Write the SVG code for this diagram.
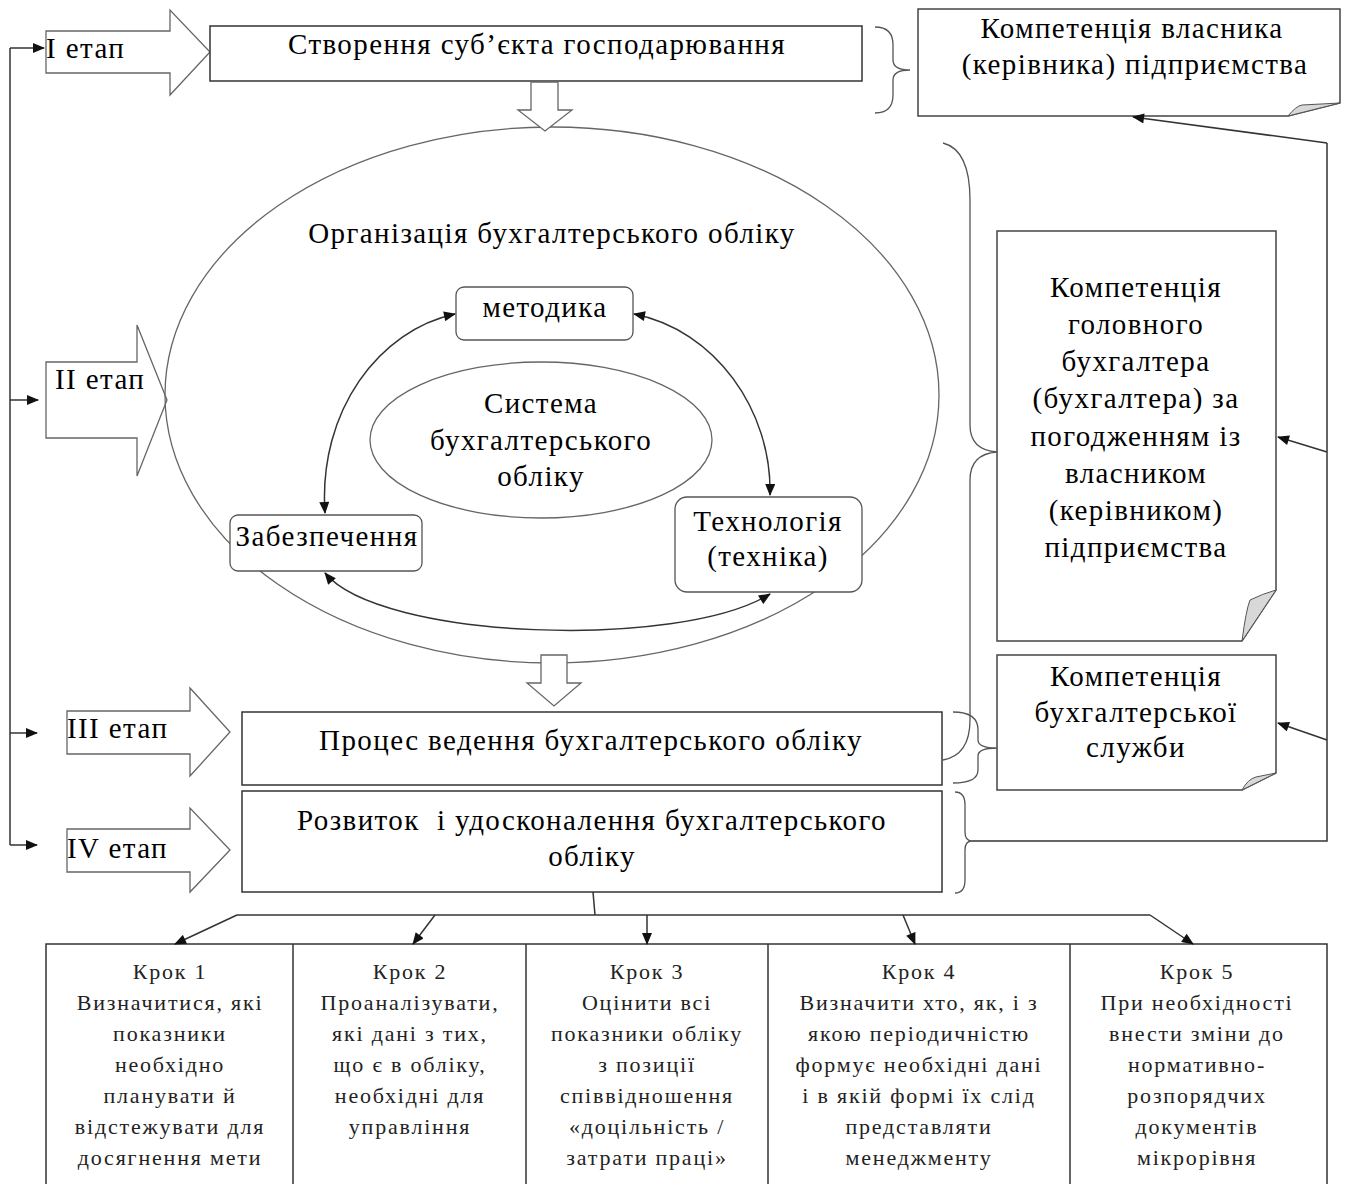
<svg xmlns="http://www.w3.org/2000/svg" width="1351" height="1184" viewBox="0 0 1351 1184">
<defs>
<marker id="ah" viewBox="0 0 12 10" refX="11" refY="5" markerWidth="13" markerHeight="10" markerUnits="userSpaceOnUse" orient="auto-start-reverse">
<path d="M0,0 L12,5 L0,10 Z" fill="#111"/>
</marker>
<style>
.t{font-family:"Liberation Serif","Times New Roman",serif;font-size:29px;letter-spacing:1.4px;fill:#000;text-anchor:middle}
.tl{font-family:"Liberation Serif","Times New Roman",serif;font-size:29px;letter-spacing:1.4px;fill:#000}
.s{font-family:"Liberation Serif","Times New Roman",serif;font-size:22px;fill:#222;text-anchor:middle;letter-spacing:1.8px}
.box{fill:#fff;stroke:#333;stroke-width:1.5}
.barrow{fill:#fff;stroke:#666;stroke-width:1.3}
.rbox{fill:#fff;stroke:#555;stroke-width:1.3}
.ell{fill:none;stroke:#666;stroke-width:1.3}
.doc{fill:#fff;stroke:#444;stroke-width:1.5}
.fold{fill:#d8d8d8;stroke:#555;stroke-width:1}
.ln{fill:none;stroke:#333;stroke-width:1.5}
.br{fill:none;stroke:#555;stroke-width:1.3}
</style>
</defs>

<!-- Stage arrows -->
<g id="stage1">
<path class="barrow" d="M46,31 H170 V10 L210,52 L170,95 V73 H46 Z"/>
<text class="tl" x="46" y="58">I етап</text>
</g>
<g id="stage2">
<path class="barrow" d="M46,362 H137 V325 L167,400 L137,476 V438 H46 Z"/>
<text class="tl" x="55" y="389">II етап</text>
</g>
<g id="stage3">
<path class="barrow" d="M67,711 H190 V688 L230,732 L190,776 V754 H67 Z"/>
<text class="tl" x="67" y="738">III етап</text>
</g>
<g id="stage4">
<path class="barrow" d="M67,829 H190 V808 L230,850 L190,892 V872 H67 Z"/>
<text class="tl" x="67" y="858">IV етап</text>
</g>

<!-- Top box -->
<g id="create">
<rect class="box" x="210" y="26" width="652" height="55"/>
<text class="t" x="537" y="54">Створення суб’єкта господарювання</text>
</g>

<!-- owner doc -->
<g id="owner">
<path class="doc" d="M918,9 H1340 V103 L1288,116 H918 Z"/>
<path class="fold" d="M1288,116 Q1296,106 1302,105 L1340,103 Z"/>
<text class="t" x="1132" y="38">Компетенція власника</text>
<text class="t" x="1135" y="74">(керівника) підприємства</text>
</g>

<!-- Organization ellipse -->
<g id="organization">
<ellipse class="ell" cx="552" cy="395" rx="387" ry="268"/>
<text class="t" x="552" y="243">Організація бухгалтерського обліку</text>
</g>

<g id="system">
<ellipse class="ell" cx="541" cy="440" rx="171" ry="78"/>
<text class="t" x="541" y="413">Система</text>
<text class="t" x="541" y="450">бухгалтерського</text>
<text class="t" x="541" y="486">обліку</text>
</g>

<g id="methodika">
<rect class="rbox" x="456" y="287" width="177" height="53" rx="8"/>
<text class="t" x="545" y="317">методика</text>
</g>

<g id="zabezpechennia">
<rect class="rbox" x="230" y="515" width="192" height="56" rx="8"/>
<text class="t" x="327" y="546">Забезпечення</text>
</g>

<g id="technology">
<rect class="rbox" x="675" y="497" width="187" height="95" rx="12"/>
<text class="t" x="768" y="531">Технологія</text>
<text class="t" x="768" y="566">(техніка)</text>
</g>

<!-- down block arrows -->
<g id="down1">
<path class="barrow" d="M531,82 H558 V110 H572 L545,131 L518,110 H531 Z"/>
</g>
<g id="down2">
<path class="barrow" d="M541,655 H567 V683 H581 L554,706 L527,683 H541 Z"/>
</g>

<!-- Process boxes -->
<g id="process">
<rect class="box" x="242" y="712" width="700" height="73"/>
<text class="t" x="591" y="750">Процес ведення бухгалтерського обліку</text>
</g>
<g id="development">
<rect class="box" x="242" y="791" width="700" height="101"/>
<text class="t" x="592" y="830" xml:space="preserve">Розвиток  і удосконалення бухгалтерського</text>
<text class="t" x="592" y="866">обліку</text>
</g>

<!-- chief accountant doc -->
<g id="chief">
<path class="doc" d="M997,231 H1276 V590 L1242,641 H997 Z"/>
<path class="fold" d="M1242,641 Q1246,610 1250,600 Q1262,594 1276,590 Z"/>
<text class="t" x="1136" y="297">Компетенція</text>
<text class="t" x="1136" y="334">головного</text>
<text class="t" x="1136" y="371">бухгалтера</text>
<text class="t" x="1136" y="408">(бухгалтера) за</text>
<text class="t" x="1136" y="446">погодженням із</text>
<text class="t" x="1136" y="483">власником</text>
<text class="t" x="1136" y="520">(керівником)</text>
<text class="t" x="1136" y="557">підприємства</text>
</g>

<g id="service">
<path class="doc" d="M997,655 H1276 V773 L1242,790 H997 Z"/>
<path class="fold" d="M1242,790 Q1248,779 1256,777 L1276,773 Z"/>
<text class="t" x="1136" y="686">Компетенція</text>
<text class="t" x="1136" y="722">бухгалтерської</text>
<text class="t" x="1136" y="757">служби</text>
</g>

<!-- Steps -->
<g id="steps">
<rect class="box" x="46" y="944" width="1281" height="244"/>
<line class="ln" x1="293" y1="944" x2="293" y2="1188"/>
<line class="ln" x1="526" y1="944" x2="526" y2="1188"/>
<line class="ln" x1="768" y1="944" x2="768" y2="1188"/>
<line class="ln" x1="1070" y1="944" x2="1070" y2="1188"/>
</g>
<g id="step1">
<text class="s" x="170" y="979">Крок 1</text>
<text class="s" x="170" y="1010">Визначитися, які</text>
<text class="s" x="170" y="1041">показники</text>
<text class="s" x="170" y="1072">необхідно</text>
<text class="s" x="170" y="1103">планувати й</text>
<text class="s" x="170" y="1134">відстежувати для</text>
<text class="s" x="170" y="1165">досягнення мети</text>
</g>
<g id="step2">
<text class="s" x="410" y="979">Крок 2</text>
<text class="s" x="410" y="1010">Проаналізувати,</text>
<text class="s" x="410" y="1041">які дані з тих,</text>
<text class="s" x="410" y="1072">що є в обліку,</text>
<text class="s" x="410" y="1103">необхідні для</text>
<text class="s" x="410" y="1134">управління</text>
</g>
<g id="step3">
<text class="s" x="647" y="979">Крок 3</text>
<text class="s" x="647" y="1010">Оцінити всі</text>
<text class="s" x="647" y="1041">показники обліку</text>
<text class="s" x="647" y="1072">з позиції</text>
<text class="s" x="647" y="1103">співвідношення</text>
<text class="s" x="647" y="1134">«доцільність /</text>
<text class="s" x="647" y="1165">затрати праці»</text>
</g>
<g id="step4">
<text class="s" x="919" y="979">Крок 4</text>
<text class="s" x="919" y="1010">Визначити хто, як, і з</text>
<text class="s" x="919" y="1041">якою періодичністю</text>
<text class="s" x="919" y="1072">формує необхідні дані</text>
<text class="s" x="919" y="1103">і в якій формі їх слід</text>
<text class="s" x="919" y="1134">представляти</text>
<text class="s" x="919" y="1165">менеджменту</text>
</g>
<g id="step5">
<text class="s" x="1197" y="979">Крок 5</text>
<text class="s" x="1197" y="1010">При необхідності</text>
<text class="s" x="1197" y="1041">внести зміни до</text>
<text class="s" x="1197" y="1072">нормативно-</text>
<text class="s" x="1197" y="1103">розпорядчих</text>
<text class="s" x="1197" y="1134">документів</text>
<text class="s" x="1197" y="1165">мікрорівня</text>
</g>

<!-- Connectors -->
<g id="connectors">
<!-- left stage loop -->
<path class="ln" d="M10,48 V845"/>
<path class="ln" d="M10,48 H44" marker-end="url(#ah)"/>
<path class="ln" d="M10,400 H38" marker-end="url(#ah)"/>
<path class="ln" d="M10,733 H37" marker-end="url(#ah)"/>
<path class="ln" d="M10,845 H37" marker-end="url(#ah)"/>
<!-- braces -->
<path class="br" d="M875,27 Q893,27 893,45 V60 Q893,70 910,70 Q893,70 893,80 V95 Q893,113 875,113"/>
<path class="br" d="M943,143 Q970,150 970,200 V425 Q970,450 997,452 Q970,454 970,480 V720 Q970,755 943,760"/>
<path class="br" d="M953,712 Q978,712 978,730 V740 Q978,748 997,748 Q978,748 978,756 V770 Q978,783 953,783"/>
<path class="br" d="M955,792 Q965,792 965,805 V832 Q965,841 972,841 Q965,841 965,850 V880 Q965,893 955,893"/>
<!-- right loop -->
<path class="ln" d="M972,841 H1327 V143"/>
<path class="ln" d="M1327,143 L1133,117" marker-end="url(#ah)"/>
<path class="ln" d="M1327,452 L1278,437" marker-end="url(#ah)"/>
<path class="ln" d="M1327,740 L1278,723" marker-end="url(#ah)"/>
<!-- inner double arrows -->
<path class="ln" d="M455,314 C380,330 318,410 325,513" marker-start="url(#ah)" marker-end="url(#ah)"/>
<path class="ln" d="M634,314 C715,330 772,410 770,495" marker-start="url(#ah)" marker-end="url(#ah)"/>
<path class="ln" d="M325,573 C380,640 680,650 770,594" marker-start="url(#ah)" marker-end="url(#ah)"/>
<!-- steps fan -->
<path class="ln" d="M593,892 L595,915"/>
<path class="ln" d="M237,915 H1150"/>
<path class="ln" d="M237,915 L175,944" marker-end="url(#ah)"/>
<path class="ln" d="M435,915 L413,944" marker-end="url(#ah)"/>
<path class="ln" d="M647,915 L647,944" marker-end="url(#ah)"/>
<path class="ln" d="M903,915 L915,944" marker-end="url(#ah)"/>
<path class="ln" d="M1150,915 L1193,944" marker-end="url(#ah)"/>
</g>
</svg>
